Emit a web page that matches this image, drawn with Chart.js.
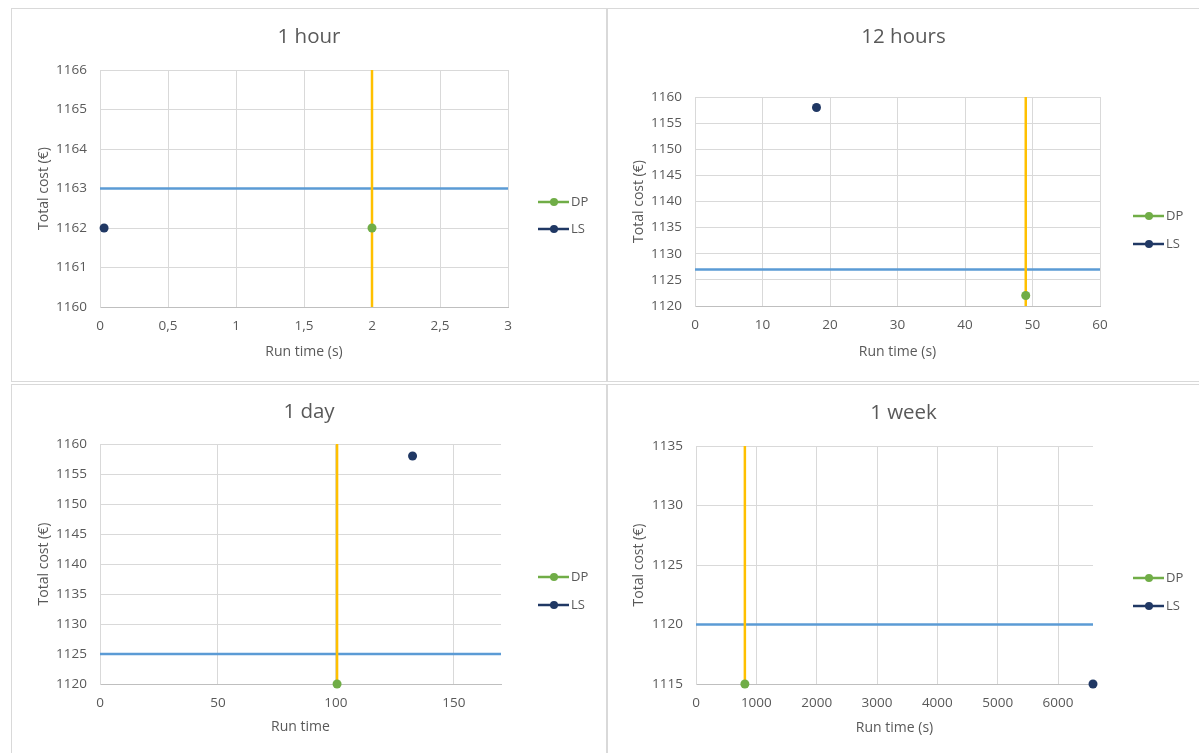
<!DOCTYPE html>
<html><head><meta charset="utf-8">
<script src="https://cdn.jsdelivr.net/npm/chart.js@4.4.1/dist/chart.umd.min.js"></script>
<style>
html,body{margin:0;padding:0;background:#fff;width:1199px;height:753px;overflow:hidden;}
.panel{position:absolute;border:1px solid #d9d9d9;background:#fff;box-sizing:border-box;}
.panel canvas{position:absolute;left:0;top:0;}
</style></head><body>
<div class="panel" style="left:11px;top:8px;width:596px;height:374px"><canvas id="c0"></canvas></div>
<div class="panel" style="left:607px;top:8px;width:600px;height:374px"><canvas id="c1"></canvas></div>
<div class="panel" style="left:11px;top:384px;width:596px;height:375px"><canvas id="c2"></canvas></div>
<div class="panel" style="left:607px;top:384px;width:600px;height:375px"><canvas id="c3"></canvas></div>
<script>
// ---- data ----
const panelTitles = ['1 hour', '12 hours', '1 day', '1 week'];
const xAxisTitles = ['Run time (s)', 'Run time (s)', 'Run time', 'Run time (s)'];
const yAxisTitle = 'Total cost (€)';
const seriesNames = ['DP', 'LS'];
const dpRunTime = [2, 49, 100.5, 810];
const dpCost = [1162, 1122, 1120, 1115];
const lsRunTime = [0.03, 18, 132.5, 6580];
const lsCost = [1162, 1158, 1158, 1115];
const refCost = [1163, 1127, 1125, 1120];
const xMin = [0, 0, 0, 0];
const xMax = [3, 60, 170, 6580];
const yMin = [1160, 1120, 1120, 1115];
const yMax = [1166, 1160, 1160, 1135];
const xTicks = [
  [0, 0.5, 1, 1.5, 2, 2.5, 3],
  [0, 10, 20, 30, 40, 50, 60],
  [0, 50, 100, 150],
  [0, 1000, 2000, 3000, 4000, 5000, 6000]
];
const yTicks = [
  [1160, 1161, 1162, 1163, 1164, 1165, 1166],
  [1120, 1125, 1130, 1135, 1140, 1145, 1150, 1155, 1160],
  [1120, 1125, 1130, 1135, 1140, 1145, 1150, 1155, 1160],
  [1115, 1120, 1125, 1130, 1135]
];

// ---- layout / style ----
const layout = [
  {w:594, h:372, plotLeft:88, plotTop:61, plotRight:496, plotBottom:298, titleY:28, legX:526, legY:[193,220], xTitleBottom:28.5, yTitleX:32},
  {w:591, h:372, plotLeft:87, plotTop:88, plotRight:492, plotBottom:297, titleY:28, legX:525, legY:[207,235], xTitleBottom:29, yTitleX:31},
  {w:594, h:368, plotLeft:88, plotTop:59, plotRight:489, plotBottom:299, titleY:27, legX:526, legY:[192,220], xTitleBottom:25.5, yTitleX:32},
  {w:591, h:368, plotLeft:88, plotTop:61, plotRight:485, plotBottom:299, titleY:28, legX:525, legY:[193,221], xTitleBottom:24.5, yTitleX:31}
];
const GREEN = '#70AD47', NAVY = '#203864', YELLOW = '#FFC000', BLUE = '#5B9BD5';
const GRID = '#d9d9d9', AXIS = '#bfbfbf', TEXT = '#595959';
const FONT = '"Open Sans", Lato, sans-serif';
const TICK_SIZE = 13.5, AXTITLE_SIZE = 14, TITLE_SIZE = 20.5, LEGEND_SIZE = 13;
const HALF_LH = AXTITLE_SIZE * 1.2 / 2;

function makeChart(i) {
  const L = layout[i];
  const cv = document.getElementById('c' + i);
  cv.width = L.w; cv.height = L.h;
  cv.style.width = L.w + 'px'; cv.style.height = L.h + 'px';
  const colors = [GREEN, NAVY];
  const decor = {
    id: 'decor' + i,
    afterDraw(chart) {
      const c = chart.ctx;
      c.save();
      c.fillStyle = TEXT;
      c.font = TITLE_SIZE + 'px ' + FONT;
      c.textAlign = 'center';
      c.textBaseline = 'middle';
      c.fillText(panelTitles[i], chart.width / 2, L.titleY);
      c.font = LEGEND_SIZE + 'px ' + FONT;
      c.textAlign = 'left';
      seriesNames.forEach((n, k) => {
        const y = L.legY[k];
        c.strokeStyle = colors[k];
        c.lineWidth = 2.5;
        c.beginPath(); c.moveTo(L.legX, y); c.lineTo(L.legX + 31, y); c.stroke();
        c.fillStyle = colors[k];
        c.beginPath(); c.arc(L.legX + 16, y, 4, 0, Math.PI * 2); c.fill();
        c.fillStyle = TEXT;
        c.fillText(n, L.legX + 33, y);
      });
      c.restore();
    }
  };
  new Chart(cv, {
    type: 'scatter',
    data: {
      datasets: [
        {label: seriesNames[0], data: [{x: dpRunTime[i], y: dpCost[i]}], backgroundColor: GREEN, borderColor: GREEN, pointRadius: 4.5, pointBorderWidth: 0, clip: false},
        {label: seriesNames[1], data: [{x: lsRunTime[i], y: lsCost[i]}], backgroundColor: NAVY, borderColor: NAVY, pointRadius: 4.5, pointBorderWidth: 0, clip: false},
        {label: 'DP run time', data: [{x: dpRunTime[i], y: yMin[i]}, {x: dpRunTime[i], y: yMax[i]}], showLine: true, borderColor: YELLOW, borderWidth: 2.5, pointRadius: 0},
        {label: 'Reference cost', data: [{x: xMin[i], y: refCost[i]}, {x: xMax[i], y: refCost[i]}], showLine: true, borderColor: BLUE, borderWidth: 2.5, pointRadius: 0}
      ]
    },
    options: {
      responsive: false, animation: false, devicePixelRatio: 1,
      layout: {padding: {left: 0, top: L.plotTop, right: L.w - L.plotRight, bottom: 0}},
      plugins: {legend: {display: false}, title: {display: false}, tooltip: {enabled: false}},
      scales: {
        x: {
          type: 'linear', min: xMin[i], max: xMax[i],
          afterBuildTicks: s => { s.ticks = xTicks[i].map(v => ({value: v})); },
          afterFit: s => { s.height = L.h - L.plotBottom; },
          grid: {color: GRID, drawTicks: false},
          border: {color: AXIS, width: 1},
          ticks: {padding: 11, color: TEXT, font: {family: FONT, size: TICK_SIZE}, maxRotation: 0, autoSkip: false,
                  callback: v => i === 0 ? String(v).replace('.', ',') : String(v)},
          title: {display: true, text: xAxisTitles[i], color: TEXT, font: {family: FONT, size: AXTITLE_SIZE},
                  padding: {top: 0, bottom: L.xTitleBottom - HALF_LH}}
        },
        y: {
          type: 'linear', min: yMin[i], max: yMax[i],
          afterBuildTicks: s => { s.ticks = yTicks[i].map(v => ({value: v})); },
          afterFit: s => { s.width = L.plotLeft; },
          grid: {color: GRID, drawTicks: false},
          border: {color: GRID, width: 1},
          ticks: {padding: 13, color: TEXT, font: {family: FONT, size: TICK_SIZE}, autoSkip: false,
                  callback: v => String(v)},
          title: {display: true, text: yAxisTitle, color: TEXT, font: {family: FONT, size: AXTITLE_SIZE},
                  padding: {top: L.yTitleX - HALF_LH, bottom: 0}}
        }
      }
    },
    plugins: [decor]
  });
}
for (let i = 0; i < 4; i++) makeChart(i);
</script>
</body></html>
